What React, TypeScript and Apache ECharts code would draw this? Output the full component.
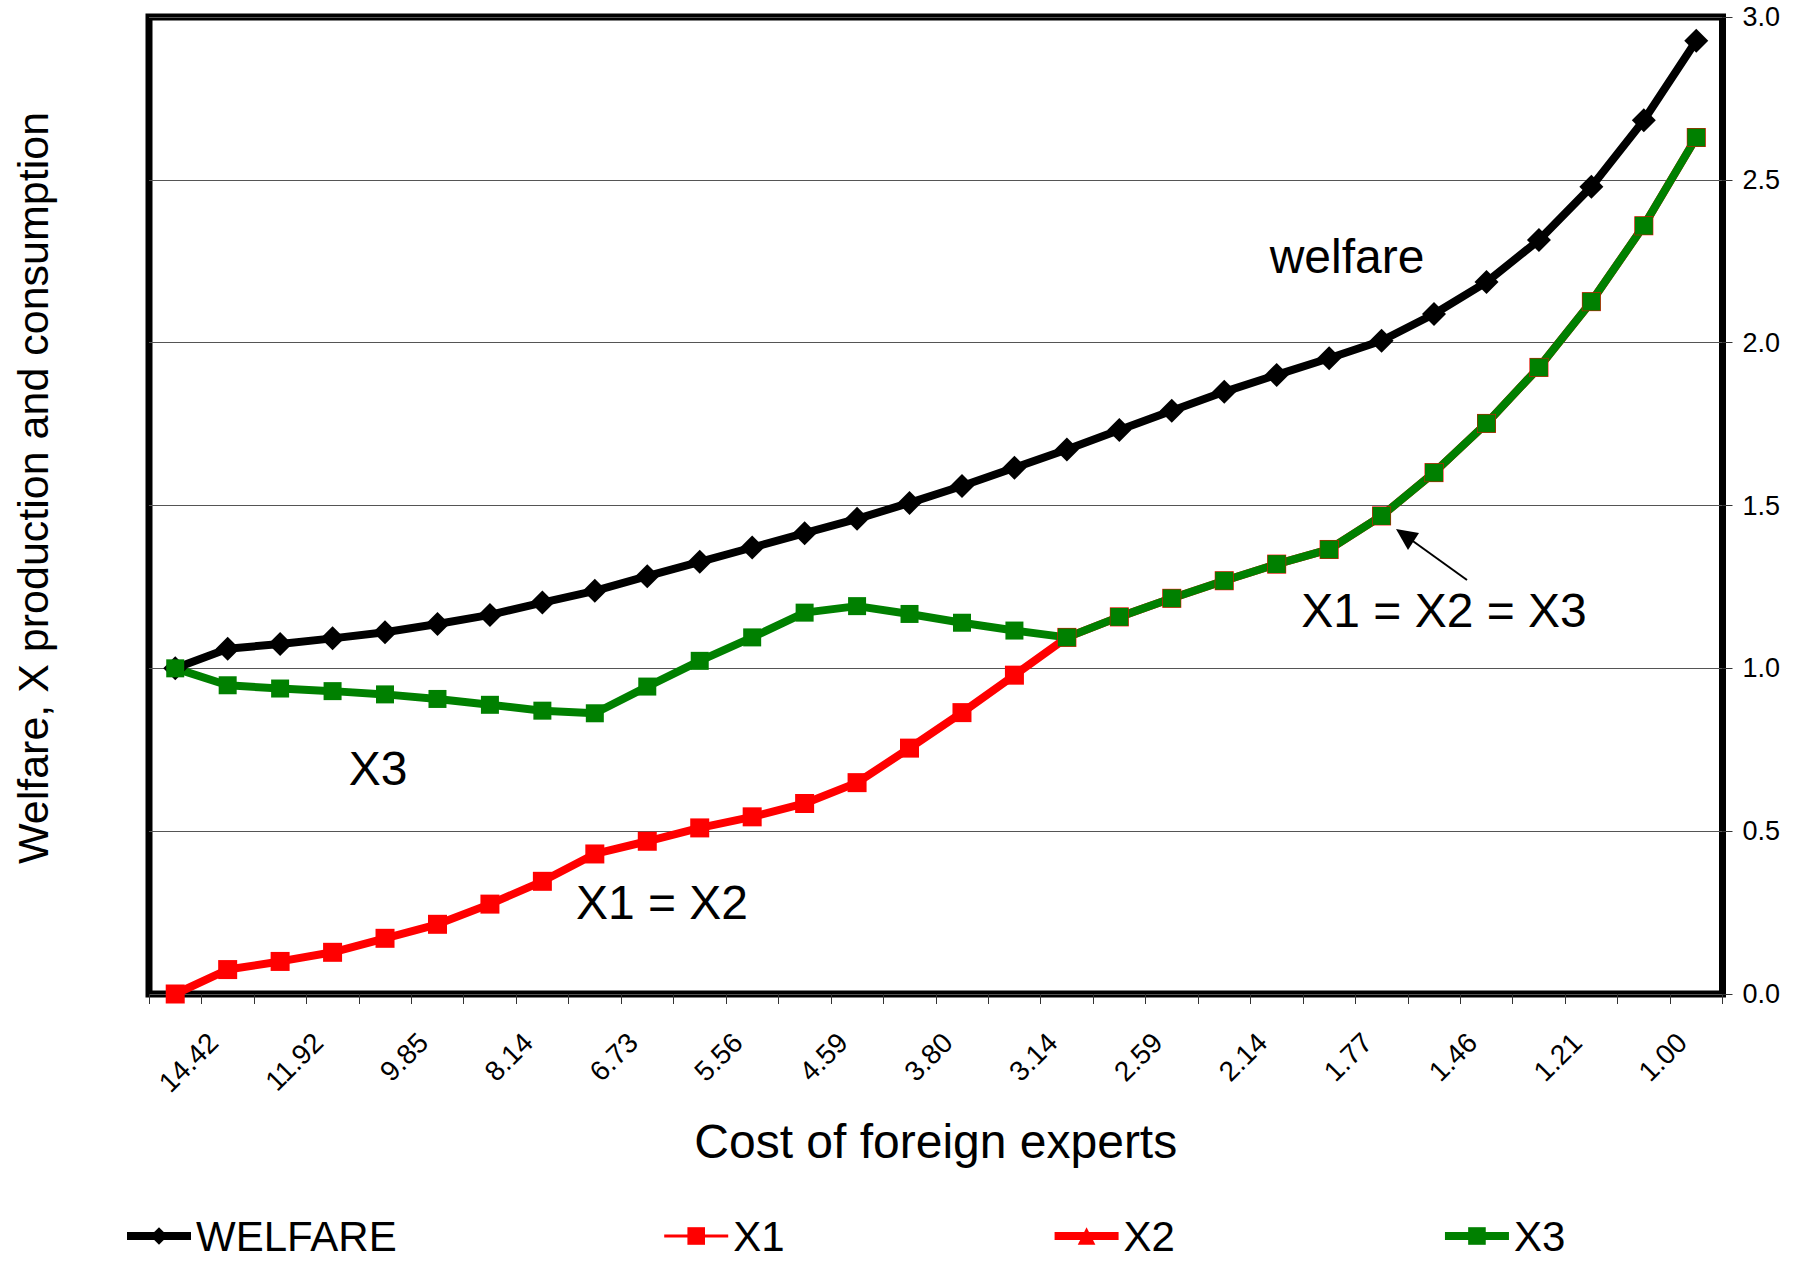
import React, { useEffect, useRef } from "react";
import * as echarts from "echarts";

const categories = [
  "14.42", "13.11", "11.92", "10.84", "9.85", "8.95", "8.14", "7.40", "6.73", "6.12",
  "5.56", "5.05", "4.59", "4.17", "3.80", "3.45", "3.14", "2.85", "2.59", "2.35",
  "2.14", "1.95", "1.77", "1.61", "1.46", "1.33", "1.21", "1.10", "1.00", "0.91",
];

const welfare = [
  1.0, 1.06, 1.075, 1.092, 1.111, 1.136, 1.164, 1.202, 1.238, 1.283,
  1.327, 1.371, 1.415, 1.459, 1.508, 1.56, 1.616, 1.672, 1.732, 1.791,
  1.849, 1.901, 1.952, 2.006, 2.088, 2.186, 2.315, 2.479, 2.683, 2.927,
];

const x1 = [
  0.0, 0.075, 0.1, 0.128, 0.171, 0.214, 0.276, 0.346, 0.43, 0.469,
  0.51, 0.544, 0.585, 0.649, 0.755, 0.864, 0.979, 1.095, 1.158, 1.215,
  1.269, 1.32, 1.365, 1.468, 1.601, 1.752, 1.924, 2.126, 2.359, 2.63,
];

const x2 = [
  0.0, 0.075, 0.1, 0.128, 0.171, 0.214, 0.276, 0.346, 0.43, 0.469,
  0.51, 0.544, 0.585, 0.649, 0.755, 0.864, 0.979, 1.095, 1.158, 1.215,
  1.269, 1.32, 1.365, 1.468, 1.601, 1.752, 1.924, 2.126, 2.359, 2.63,
];

const x3 = [
  1.0, 0.948, 0.938, 0.93, 0.92, 0.906, 0.888, 0.87, 0.862, 0.944,
  1.023, 1.095, 1.171, 1.191, 1.167, 1.14, 1.116, 1.095, 1.158, 1.215,
  1.269, 1.32, 1.365, 1.468, 1.601, 1.752, 1.924, 2.126, 2.359, 2.63,
];

const legendOrder = ["WELFARE", "X1", "X2", "X3"];
const yAxisTitle = "Welfare, X production and consumption";
const xAxisTitle = "Cost of foreign experts";

const FONT = "'Liberation Sans', Arial, Helvetica, sans-serif";

export default function App() {
  const ref = useRef<HTMLDivElement>(null);

  useEffect(() => {
    if (!ref.current) return;
    const chart = echarts.init(ref.current, null, { renderer: "svg" });

    const option: any = {
      animation: false,
      backgroundColor: "#ffffff",
      textStyle: { fontFamily: FONT, color: "#000" },
      grid: {
        left: 149,
        right: 78.5,
        top: 17,
        bottom: 270,
        show: true,
        borderColor: "#000",
        borderWidth: 7,
        backgroundColor: "#fff",
      },
      legend: {
        data: legendOrder,
        left: 118,
        top: 1210,
        itemWidth: 64,
        itemHeight: 22,
        itemGap: 266,
        textStyle: { fontSize: 42, lineHeight: 42, fontFamily: FONT, color: "#000" },
        lineStyle: { width: "inherit" },
      },
      xAxis: {
        type: "category",
        data: categories,
        boundaryGap: true,
        name: xAxisTitle,
        nameLocation: "middle",
        nameGap: 123,
        nameTextStyle: { fontSize: 48, fontFamily: FONT, color: "#000" },
        axisLine: { show: false },
        axisTick: {
          show: true,
          interval: 0,
          length: 10,
          lineStyle: { color: "#333", width: 1 },
        },
        axisLabel: {
          interval: 1,
          rotate: 45,
          align: "center",
          margin: 82,
          fontSize: 28,
          fontFamily: FONT,
          color: "#000",
          formatter: (v: string) => "{a|" + v + "}",
          rich: {
            a: { width: 108, align: "right", fontSize: 28, fontFamily: FONT, color: "#000" },
          },
        },
        splitLine: { show: false },
      },
      yAxis: {
        type: "value",
        position: "right",
        min: 0,
        max: 3,
        interval: 0.5,
        axisLine: { show: false },
        axisTick: { show: true, length: 10, lineStyle: { color: "#333", width: 1 } },
        axisLabel: {
          margin: 20,
          fontSize: 27,
          fontFamily: FONT,
          color: "#000",
          formatter: (v: number) => v.toFixed(1),
        },
        splitLine: { show: true, lineStyle: { color: "#555", width: 1.2 } },
      },
      series: [
        {
          name: "WELFARE",
          type: "line",
          data: welfare,
          color: "#000",
          lineStyle: { color: "#000", width: 8 },
          itemStyle: { color: "#000" },
          symbol: "diamond",
          symbolSize: 24,
          showAllSymbol: true,
        },
        {
          name: "X2",
          type: "line",
          data: x2,
          color: "#ff0000",
          lineStyle: { color: "#ff0000", width: 8 },
          itemStyle: { color: "#ff0000" },
          symbol: "triangle",
          symbolSize: 16,
          showAllSymbol: true,
        },
        {
          name: "X1",
          type: "line",
          data: x1,
          color: "#ff0000",
          lineStyle: { color: "#ff0000", width: 3 },
          itemStyle: { color: "#ff0000" },
          symbol: "rect",
          symbolSize: 19,
          showAllSymbol: true,
        },
        {
          name: "X3",
          type: "line",
          data: x3,
          color: "#008000",
          lineStyle: { color: "#008000", width: 8 },
          itemStyle: { color: "#008000" },
          symbol: "rect",
          symbolSize: 18,
          showAllSymbol: true,
        },
      ],
      graphic: [
        {
          type: "text",
          x: 33,
          y: 488,
          rotation: Math.PI / 2,
          style: {
            text: yAxisTitle,
            fontSize: 43,
            fontFamily: FONT,
            fill: "#000",
            textAlign: "center",
            textVerticalAlign: "middle",
          },
        },
        {
          type: "text",
          x: 1347,
          y: 256,
          style: { text: "welfare", fontSize: 48, fontFamily: FONT, fill: "#000", textAlign: "center", textVerticalAlign: "middle" },
          z: 10,
        },
        {
          type: "text",
          x: 378,
          y: 768,
          style: { text: "X3", fontSize: 48, fontFamily: FONT, fill: "#000", textAlign: "center", textVerticalAlign: "middle" },
          z: 10,
        },
        {
          type: "text",
          x: 662,
          y: 902,
          style: { text: "X1 = X2", fontSize: 48, fontFamily: FONT, fill: "#000", textAlign: "center", textVerticalAlign: "middle" },
          z: 10,
        },
        {
          type: "text",
          x: 1444,
          y: 610,
          style: { text: "X1 = X2 = X3", fontSize: 48, fontFamily: FONT, fill: "#000", textAlign: "center", textVerticalAlign: "middle" },
          z: 10,
        },
        {
          type: "line",
          shape: { x1: 1467, y1: 580, x2: 1410, y2: 539 },
          style: { stroke: "#000", lineWidth: 2 },
          z: 10,
        },
        {
          type: "polygon",
          shape: { points: [[1396, 529], [1419, 533], [1408, 550]] },
          style: { fill: "#000" },
          z: 10,
        },
      ],
    };

    chart.setOption(option);
    return () => {
      chart.dispose();
    };
  }, []);

  return (
    <div
      ref={ref}
      style={{ position: "fixed", left: 0, top: 0, width: 1801, height: 1264, background: "#fff" }}
    />
  );
}
